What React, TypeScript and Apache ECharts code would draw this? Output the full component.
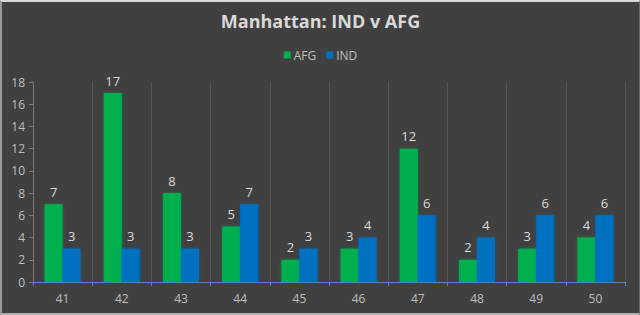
import React, { useEffect, useRef } from "react";
import * as echarts from "echarts";

const overs = ["41", "42", "43", "44", "45", "46", "47", "48", "49", "50"];
const afgRuns = [7, 17, 8, 5, 2, 3, 12, 2, 3, 4];
const indRuns = [3, 3, 3, 7, 3, 4, 6, 4, 6, 6];

const FONT = "'Open Sans', 'Noto Sans', sans-serif";
const GREEN = "#00b050";
const BLUE = "#0070c0";
const TEXT = "#d9d9d9";

export default function App() {
  const ref = useRef<HTMLDivElement>(null);

  useEffect(() => {
    if (!ref.current) return;
    const chart = echarts.init(ref.current, null, { renderer: "svg" });
    const barLabel = {
      show: true,
      position: "top",
      distance: 6,
      color: TEXT,
      fontSize: 13,
      fontFamily: FONT,
    };
    chart.setOption({
      animation: false,
      backgroundColor: "#404040",
      title: {
        text: "Manhattan: IND v AFG",
        left: "center",
        top: 5,
        textStyle: { color: TEXT, fontSize: 18, fontWeight: "bold", fontFamily: FONT },
      },
      legend: {
        top: 42,
        left: "center",
        itemWidth: 7,
        itemHeight: 7,
        itemGap: 10,
        icon: "rect",
        textStyle: { color: "#bfbfbf", fontSize: 12, fontFamily: FONT, padding: [0, 0, 0, -2] },
        data: ["AFG", "IND"],
      },
      grid: { left: 31, right: 14, top: 80, bottom: 31, containLabel: false },
      xAxis: {
        type: "category",
        data: overs,
        axisLine: { lineStyle: { color: "#5b86c0", width: 1 } },
        axisTick: { show: true, length: 4, lineStyle: { color: "#5b86c0" } },
        axisLabel: { color: "#bfbfbf", fontSize: 12, fontFamily: FONT, margin: 10 },
        splitLine: { show: true, lineStyle: { color: "#555555", width: 1 } },
      },
      yAxis: {
        type: "value",
        min: 0,
        max: 18,
        interval: 2,
        axisLine: { show: true, lineStyle: { color: "#7a7a7a" } },
        axisTick: { show: true, length: 4, lineStyle: { color: "#7a7a7a" } },
        axisLabel: { color: "#bfbfbf", fontSize: 12, fontFamily: FONT, margin: 8 },
        splitLine: { show: false },
      },
      series: [
        {
          name: "AFG",
          type: "bar",
          data: afgRuns,
          barWidth: 18,
          barGap: "0%",
          itemStyle: { color: GREEN, shadowColor: "rgba(0,176,80,0.5)", shadowBlur: 3 },
          label: barLabel,
        },
        {
          name: "IND",
          type: "bar",
          data: indRuns,
          barWidth: 18,
          barGap: "0%",
          itemStyle: { color: BLUE, shadowColor: "rgba(0,112,192,0.6)", shadowBlur: 3 },
          label: barLabel,
        },
      ],
    });
    return () => chart.dispose();
  }, []);

  return (
    <div
      style={{
        position: "absolute",
        left: 0,
        top: 0,
        width: 640,
        height: 315,
        boxSizing: "border-box",
        borderTop: "2px solid #d8d8d8",
        borderLeft: "2px solid #9a9a9a",
        borderBottom: "2px solid #b0b0b0",
        borderRight: "1px solid #6a6a6a",
        background: "#404040",
      }}
    >
      <div ref={ref} style={{ width: 637, height: 311 }} />
    </div>
  );
}
